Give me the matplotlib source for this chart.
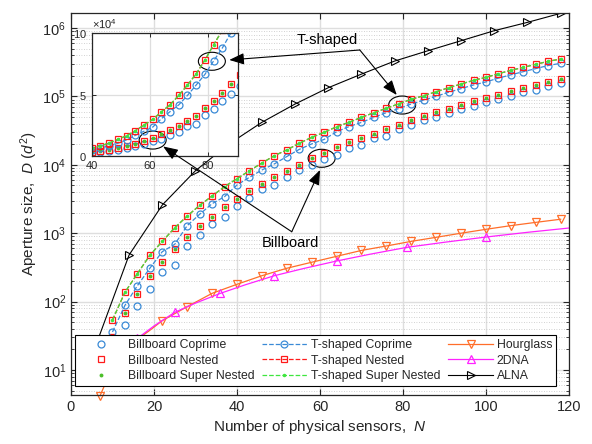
import matplotlib
matplotlib.use("Agg")
import matplotlib.pyplot as plt
from matplotlib.patches import Ellipse, ConnectionPatch, ArrowStyle
from matplotlib.ticker import ScalarFormatter, LogLocator, NullFormatter
from matplotlib.transforms import ScaledTranslation

plt.rcParams["font.family"] = ["Liberation Sans", "DejaVu Sans"]
plt.rcParams["mathtext.fontset"] = "custom"
plt.rcParams["mathtext.rm"] = "Liberation Sans"
plt.rcParams["mathtext.it"] = "Liberation Sans:italic"

# ---- data ----
arr_n = [10, 13, 16, 19, 22, 25, 28, 31, 34, 37, 40, 43, 46, 49, 52, 55, 58, 61, 64,
         67, 70, 73, 76, 79, 82, 85, 88, 91, 94, 97, 100, 103, 106, 109, 112, 115, 118]

bb_coprime = [20, 45, 86, 153, 268, 339, 656, 941, 1349, 1730, 2500, 3311, 4400, 5070,
              6710, 8500, 10000, 12050, 14000, 17400, 19500, 24400, 26300, 33700, 38500,
              44500, 50200, 57000, 64500, 73000, 81500, 91500, 103000, 115000, 126000,
              141000, 155000]
bb_nested = [30, 67.4, 128, 237, 384, 581, 871, 1290, 1750, 2390, 3130, 4090, 5240, 6550,
             8110, 10040, 12450, 15030, 18030, 21500, 24800, 28600, 33000, 38800, 45200,
             51600, 58500, 66100, 74800, 84700, 94800, 106000, 120000, 132700, 145200,
             162500, 179500]
bb_super = [30, 67.4, 128, 237, 384, 581, 871, 1290, 1750, 2390, 3130, 4090, 5240, 6550,
            8110, 10040, 12450, 15030, 18030, 21500, 24800, 28600, 33000, 38800, 45200,
            51600, 58500, 66100, 74800, 84700, 94800, 106000, 120000, 132700, 145200,
            162500, 179500]

t_coprime = [36, 88, 171, 307, 537, 688, 1290, 1890, 2700, 3420, 5070, 6560, 8390, 10300,
             13200, 16800, 20200, 23500, 30400, 36200, 41700, 49400, 57900, 66500, 77500,
             88000, 100500, 115000, 130000, 147000, 163000, 185000, 207000, 230000,
             255000, 283000, 305000]
t_nested = [53.8, 137, 256, 475, 760, 1200, 1780, 2550, 3500, 4790, 6270, 8200, 10600,
            13600, 16500, 20600, 25200, 29800, 36000, 41800, 49400, 57800, 67000, 78200,
            90600, 102500, 117000, 134000, 151700, 171800, 190000, 214800, 240600,
            266000, 294500, 326000, 352000]
t_super = [53.8, 137, 256, 475, 760, 1200, 1780, 2550, 3500, 4790, 6270, 8200, 10600,
           13600, 16500, 20600, 25200, 29800, 36000, 41800, 49400, 57800, 67000, 78200,
           90600, 102500, 117000, 134000, 151700, 171800, 190000, 214800, 240600,
           266000, 294500, 326000, 352000]

hg_n = [7, 10, 13, 16, 19, 22, 28, 34, 40, 46, 52, 58, 64, 70, 76, 82, 88, 94, 100, 106,
        112, 118]
hg_d = [4.2, 11, 19, 28, 38, 52.6, 84.3, 132, 179, 239, 307, 376, 459, 560, 650, 760,
        871, 1000, 1140, 1290, 1440, 1600]
hg_marks = [0, 5, 6, 7, 8, 9, 10, 11, 12, 13, 14, 15, 16, 17, 18, 19, 20, 21]

dna_n = [9, 16, 20, 25, 30, 36, 42, 49, 56, 64, 72, 81, 90, 100, 110, 120]
dna_d = [8, 29, 44, 69.7, 95, 132, 176, 239, 304, 392, 492, 622, 737, 879, 1030, 1190]
dna_marks = [0, 1, 3, 5, 7, 9, 11, 13]

alna_n = [6, 14, 22, 30, 38, 46, 54, 62, 70, 78, 86, 94, 102, 110, 118]
alna_d = [23, 480, 2583, 8200, 20000, 41800, 77400, 134000, 212000, 329000, 465000,
          652000, 914000, 1210000, 1640000]

BLUE = "#3a8ad6"
RED = "#ff1a1a"
GREEN_DOT = "#4cbf2a"
GREEN_LINE = "#3ee63e"
ORANGE = "#ff6e2a"
MAGENTA = "#ff22ff"
INK = "#262626"

fig = plt.figure(figsize=(5.92, 4.44), dpi=100)
ax = fig.add_axes([0.1199, 0.1104, 0.8412, 0.8604])


def draw_arrays(a, ms=5):
    h = []
    h += a.plot(arr_n, bb_coprime, "o", mfc="none", mec=BLUE, ms=ms, mew=0.9,
                label="Billboard Coprime")
    h += a.plot(arr_n, bb_nested, "s", mfc="none", mec=RED, ms=ms, mew=0.9,
                label="Billboard Nested")
    h += a.plot(arr_n, bb_super, "o", color=GREEN_DOT, mec="none", ms=2.8,
                label="Billboard Super Nested")
    h += a.plot(arr_n, t_coprime, "--o", color=BLUE, mfc="none", ms=ms, lw=0.9, mew=0.9,
                label="T-shaped Coprime")
    h += a.plot(arr_n, t_nested, "--s", color=RED, mfc="none", ms=ms, lw=0.9, mew=0.9,
                label="T-shaped Nested")
    h += a.plot(arr_n, t_super, "--.", color=GREEN_LINE, ms=3, lw=0.9,
                label="T-shaped Super Nested")
    return h


handles = draw_arrays(ax)
handles += ax.plot(hg_n, hg_d, "-v", color=ORANGE, mfc="none", ms=5.5, lw=0.9, mew=0.9,
                   markevery=hg_marks, clip_on=False, label="Hourglass")
handles += ax.plot(dna_n, dna_d, "-^", color=MAGENTA, mfc="none", ms=5.5, lw=0.9, mew=0.9,
                   markevery=dna_marks, label="2DNA")
handles += ax.plot(alna_n, alna_d, "->", color="black", mfc="none", ms=5.5, lw=0.8, mew=0.8,
                   label="ALNA")

ax.set_yscale("log")
ax.set_xlim(0, 120)
ax.set_ylim(4.31, 1.66e6)
ax.set_xticks([0, 20, 40, 60, 80, 100, 120])
ax.yaxis.set_major_locator(LogLocator(base=10, numticks=12))
ax.yaxis.set_minor_locator(LogLocator(base=10, subs=range(2, 10), numticks=12))
ax.yaxis.set_minor_formatter(NullFormatter())
ax.tick_params(which="both", direction="in", top=True, right=True, labelsize=10.5,
               color=INK, labelcolor=INK)
ax.tick_params(which="major", length=4, width=0.8)
ax.tick_params(which="minor", length=2.5, width=0.6)
ax.grid(True, which="major", color="#dedede", lw=1.0)
ax.grid(True, which="minor", axis="y", color="#c4c4c4", ls=(0, (1, 2)), lw=0.6)
ax.set_axisbelow(True)
for s in ax.spines.values():
    s.set_linewidth(0.9)
    s.set_color(INK)

ax.set_xlabel("Number of physical sensors,  $N$", fontsize=11, labelpad=3, color=INK)
ax.set_ylabel("Aperture size,  $D$ ($d^2$)", fontsize=11, labelpad=2, color=INK)

leg = ax.legend(handles=handles, ncol=3, loc="lower left",
                bbox_to_anchor=(0.008, 0.0236, 0.966, 0.136), mode="expand",
                borderaxespad=0, fontsize=8.8, frameon=True, fancybox=False,
                framealpha=1, edgecolor="black", handlelength=3.7, handletextpad=0.3,
                borderpad=0.3, labelspacing=0.3, columnspacing=0.5)
leg.get_frame().set_linewidth(0.8)
for t in leg.get_texts():
    t.set_color(INK)

# ---- inset ----
ins = fig.add_axes([0.1549, 0.6486, 0.2476, 0.2764])
draw_arrays(ins)
ins.set_xlim(40, 90.5)
ins.set_ylim(0, 1e5)
ins.set_xticks([40, 60, 80])
ins.set_yticks([0, 5e4, 1e5])
fmt = ScalarFormatter(useMathText=True)
fmt.set_powerlimits((4, 4))
ins.yaxis.set_major_formatter(fmt)
ins.yaxis.get_offset_text().set_fontsize(8)
ins.yaxis.get_offset_text().set_color(INK)
ins.tick_params(direction="in", top=True, right=True, labelsize=8, length=3, width=0.7,
                color=INK, labelcolor=INK)
ins.grid(True, color="#dedede", lw=0.9)
ins.set_axisbelow(True)
for s in ins.spines.values():
    s.set_linewidth(0.9)
    s.set_color(INK)


# ---- annotations ----
def ring(a, n, d, w=0.27, h=0.18):
    tr = fig.dpi_scale_trans + ScaledTranslation(n, d, a.transData)
    a.add_patch(Ellipse((0, 0), w, h, transform=tr, fill=False, ec="black", lw=0.8))


ring(ax, 79.8, 7.48e4)
ring(ax, 60.4, 1.245e4)
ring(ins, 81.4, 7.72e4)
ring(ins, 61.0, 1.3e4)

head = ArrowStyle("-|>", head_length=0.9, head_width=0.35)


def arrow(p_from, a_from, p_to, a_to):
    fig.add_artist(ConnectionPatch(p_from, p_to, coordsA=a_from.transData,
                                   coordsB=a_to.transData, arrowstyle=head,
                                   mutation_scale=10, color="black", lw=0.8,
                                   shrinkA=0, shrinkB=0))


arrow((69.6, 4.77e5), ax, (87.4, 7.83e4), ins)
arrow((69.6, 4.77e5), ax, (78.5, 1.05e5), ax)
arrow((53.2, 1050), ax, (64.6, 7.8e3), ins)
arrow((53.2, 1050), ax, (60.0, 8.4e3), ax)

fig.text(61.7, 6.68e5, "T-shaped", transform=ax.transData, ha="center", va="center",
         fontsize=10.5)
fig.text(53.0, 719, "Billboard", transform=ax.transData, ha="center", va="center",
         fontsize=10.5)

fig.savefig("out.png", dpi=100)
